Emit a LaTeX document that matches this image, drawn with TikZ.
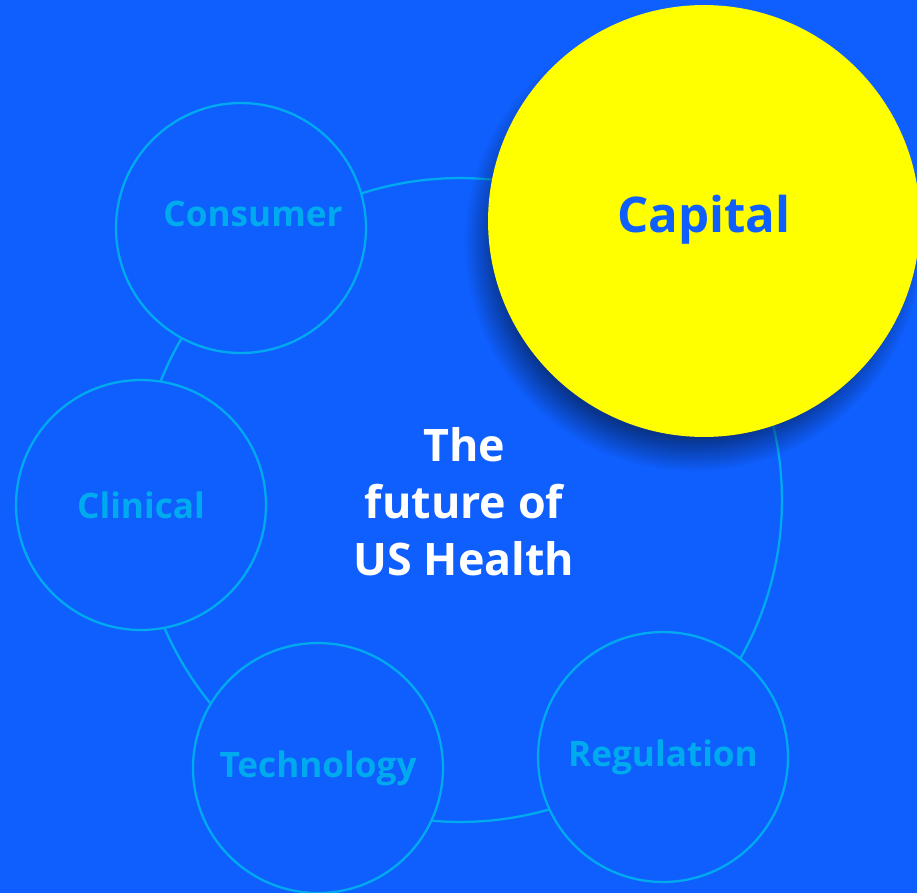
\documentclass[tikz,border=0pt]{standalone}
\usepackage{fontspec}
\setmainfont{Open Sans}
\usetikzlibrary{shadows}
\definecolor{bgblue}{RGB}{15,95,255}
\definecolor{ringcyan}{RGB}{0,170,238}
\definecolor{capyellow}{RGB}{255,255,0}
\tikzset{
  topic/.style={circle, draw=ringcyan, line width=1.3pt, fill=bgblue, minimum size=5cm, inner sep=0pt,
    text=ringcyan, font=\bfseries\fontsize{20}{24}\selectfont},
  lbl/.style={text=ringcyan, font=\bfseries\fontsize{20}{24}\selectfont}
}
\begin{document}
\begin{tikzpicture}[x=0.02cm, y=-0.02cm]
\def\hubring{(hub) circle [radius=6.44cm]}
\fill[bgblue] (0,0) rectangle (917,893);
\useasboundingbox (0,0) rectangle (917,893);
\coordinate (hub) at (460,500);
\draw[ringcyan, line width=1.3pt] \hubring;
\node[topic] (consumer) at (241,228) {};
\node[lbl] at ([xshift=0.24cm, yshift=0.28cm]consumer) {Consumer};
\node[topic] (clinical) at (141,505) {Clinical};
\node[topic] (technology) at (318,768) {Technology};
\node[topic] (regulation) at (663,757) {Regulation};
%\node[topic] (capital) at (704,221) {Capital};
\node[circle, fill=capyellow, minimum size=8.64cm, inner sep=0pt,
  circular drop shadow={shadow xshift=-0.2cm, shadow yshift=-0.4cm, shadow scale=1.06, fill=black!75!bgblue, opacity=0.6},
  text=bgblue, font=\bfseries\fontsize{28}{32}\selectfont] (capital) at (704,221) {\raisebox{0.3cm}{Capital}};
\node[align=center, text=white, font=\bfseries\fontsize{25.5}{32.5}\selectfont] (future) at (464,502) {The\\future of\\US Health};
\end{tikzpicture}
\end{document}
